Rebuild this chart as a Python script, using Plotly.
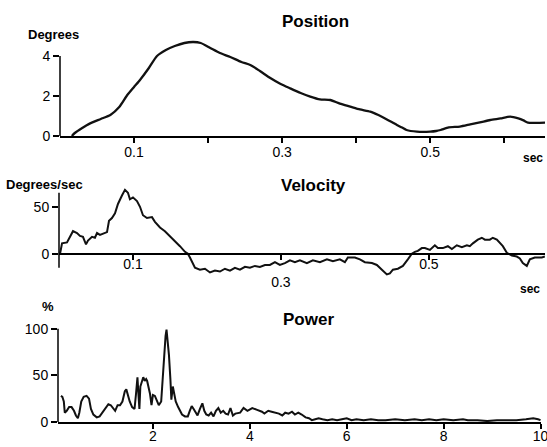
import plotly.graph_objects as go

# ---------------- data ----------------
pos_t = [0.016, 0.02, 0.03, 0.04, 0.055, 0.068, 0.08, 0.09, 0.1, 0.108, 0.12, 0.131, 0.143,
         0.155, 0.168, 0.18, 0.19, 0.203, 0.216, 0.23, 0.245, 0.257, 0.27, 0.284, 0.298,
         0.311, 0.325, 0.338, 0.351, 0.365, 0.378, 0.392, 0.405, 0.419, 0.43, 0.439, 0.448,
         0.455, 0.462, 0.468, 0.482, 0.5, 0.508, 0.514, 0.525, 0.54, 0.554, 0.567, 0.581,
         0.595, 0.608, 0.619, 0.626, 0.632, 0.644, 0.655]
pos_v = [0.0, 0.15, 0.4, 0.62, 0.85, 1.05, 1.45, 2.0, 2.45, 2.8, 3.4, 4.0, 4.3,
         4.5, 4.65, 4.7, 4.65, 4.4, 4.15, 3.95, 3.7, 3.55, 3.25, 2.9, 2.6,
         2.38, 2.15, 1.97, 1.83, 1.8, 1.62, 1.47, 1.33, 1.22, 1.05, 0.88, 0.7,
         0.55, 0.42, 0.3, 0.22, 0.22, 0.25, 0.3, 0.43, 0.47, 0.58, 0.68, 0.8,
         0.88, 0.97, 0.88, 0.78, 0.67, 0.66, 0.67]

vel_t = [0.0014, 0.0041, 0.0108, 0.0149, 0.0189, 0.0243, 0.0284, 0.0324, 0.0365, 0.0392,
         0.0446, 0.0486, 0.0514, 0.0554, 0.0595, 0.0649, 0.0676, 0.0716, 0.0757, 0.0797,
         0.0851, 0.0892, 0.0932, 0.0959, 0.1000, 0.1054, 0.1095, 0.1135, 0.1189, 0.1257,
         0.1297, 0.1365, 0.1432, 0.1500, 0.1568, 0.1635, 0.1703, 0.1743, 0.1770, 0.1838,
         0.1905, 0.1973, 0.2041, 0.2108, 0.2176, 0.2243, 0.2311, 0.2378, 0.2446, 0.2514,
         0.2581, 0.2649, 0.2716, 0.2784, 0.2851, 0.2919, 0.2986, 0.3054, 0.3122, 0.3189,
         0.3257, 0.3351, 0.3432, 0.3527, 0.3622, 0.3703, 0.3797, 0.3865, 0.3905, 0.4000,
         0.4068, 0.4135, 0.4230, 0.4297, 0.4365, 0.4432, 0.4473, 0.4514, 0.4581, 0.4649,
         0.4716, 0.4770, 0.4811, 0.4851, 0.4905, 0.4946, 0.5014, 0.5081, 0.5122, 0.5189,
         0.5257, 0.5311, 0.5378, 0.5446, 0.5514, 0.5554, 0.5595, 0.5662, 0.5716, 0.5757,
         0.5824, 0.5865, 0.5919, 0.5959, 0.6000, 0.6054, 0.6122, 0.6189, 0.6230, 0.6270,
         0.6324, 0.6365, 0.6432, 0.6527, 0.6568]
vel_v = [0, 11, 12, 18, 24, 22, 19, 18, 10, 14,
         18, 17, 22, 20, 21, 23, 35, 38, 43, 53,
         62, 68, 65, 58, 60, 56, 50, 41, 38, 39,
         34, 28, 24, 19, 13, 8, 2, 0, -4, -15,
         -17, -16, -20, -18, -19, -16, -18, -15, -17, -14,
         -15, -13, -14, -12, -12, -9, -12, -10, -7, -9,
         -7, -10, -7, -9, -6, -8, -6, -9, -4, -4,
         -6, -9, -10, -12, -17, -22, -21, -17, -16, -13,
         -6, 0, 2, 3, 6, 6, 4, 9, 6, 6,
         8, 5, 9, 7, 9, 8, 11, 15, 17, 15,
         15, 17, 15, 11, 8, 1, -2, -3, -5, -10,
         -13, -6, -4, -4, -3]

pow_f = [0.1, 0.13, 0.16, 0.18, 0.22, 0.27, 0.32, 0.37, 0.41, 0.45, 0.48, 0.52, 0.57, 0.63,
         0.68, 0.72, 0.77, 0.84, 0.9, 0.96, 1.02, 1.08, 1.13, 1.18, 1.22, 1.27, 1.32, 1.37,
         1.42, 1.45, 1.48, 1.52, 1.57, 1.62, 1.65, 1.68, 1.70, 1.72, 1.74, 1.77, 1.80, 1.83,
         1.86, 1.88, 1.91, 1.94, 1.97, 2.0, 2.04, 2.08, 2.12, 2.17, 2.20, 2.23, 2.26, 2.28,
         2.30, 2.33, 2.36, 2.38, 2.41, 2.44, 2.47, 2.52, 2.56, 2.6, 2.66, 2.72, 2.76, 2.8,
         2.84, 2.88, 2.92, 2.97, 3.02, 3.06, 3.1, 3.15, 3.2, 3.25, 3.3, 3.35, 3.4, 3.45,
         3.5, 3.55, 3.6, 3.65, 3.7, 3.8, 3.87, 3.95, 4.05, 4.15, 4.25, 4.3, 4.38, 4.45,
         4.52, 4.6, 4.67, 4.73, 4.8, 4.87, 4.93, 5.0, 5.07, 5.15, 5.22, 5.28, 5.35, 5.42,
         5.5, 5.6, 5.7, 5.8, 5.9, 6.0, 6.1, 6.2, 6.35, 6.5, 6.65, 6.8, 7.0, 7.2, 7.4, 7.55,
         7.7, 7.85, 8.0, 8.2, 8.4, 8.5, 8.7, 8.9, 9.1, 9.3, 9.5, 9.7, 9.85, 9.95, 10.0]
pow_v = [28, 27, 22, 10, 12, 16, 16, 12, 7, 4, 10, 22, 27, 28,
         25, 14, 8, 5, 6, 10, 14, 19, 18, 14, 12, 18, 18, 22,
         33, 35, 28, 22, 16, 14, 30, 48, 30, 14, 38, 44, 48, 44,
         46, 44, 38, 30, 18, 29, 28, 22, 18, 22, 50, 76, 92, 99,
         90, 72, 46, 24, 38, 28, 22, 16, 12, 8, 6, 6, 12, 17,
         14, 10, 7, 14, 20, 12, 8, 7, 10, 6, 12, 15, 10, 12,
         9, 8, 15, 7, 9, 10, 15, 12, 15, 13, 11, 9, 12, 11,
         10, 9, 7, 10, 9, 11, 8, 10, 8, 5, 4, 2, 3, 4,
         3, 2, 3, 2, 3, 4, 2, 3, 2, 3, 2, 2, 3, 2, 3, 2,
         3, 2, 3, 2, 3, 2, 2, 1, 2, 2, 2, 3, 4, 3, 2]

pos_xticks = [0.1, 0.2, 0.3, 0.4, 0.5, 0.6]
pos_xtext = ["0.1", "", "0.3", "", "0.5", ""]
vel_xticks = [0.1, 0.3, 0.5]
vel_xtext = ["0.1", "<br>0.3", "0.5"]
pow_xticks = [2, 4, 6, 8, 10]

# ---------------- figure ----------------
W, H = 547, 447
FONT = "Liberation Sans, Arial, Helvetica, sans-serif"
BOLD = "Liberation Sans Narrow, Arial Narrow, Liberation Sans, Arial, sans-serif"
LC = "#111111"

def px_x(p):
    return p / W

def px_y(p):
    return (H - p) / H

fig = go.Figure()
fig.add_trace(go.Scatter(x=pos_t, y=pos_v, mode="lines", xaxis="x", yaxis="y",
                         line=dict(color=LC, width=2.3, shape="spline", smoothing=0.6),
                         showlegend=False))
fig.add_trace(go.Scatter(x=vel_t, y=vel_v, mode="lines", xaxis="x2", yaxis="y2",
                         line=dict(color=LC, width=2.0), showlegend=False))
fig.add_trace(go.Scatter(x=pow_f, y=pow_v, mode="lines", xaxis="x3", yaxis="y3",
                         line=dict(color=LC, width=2.0), showlegend=False))

axis_common = dict(showgrid=False, zeroline=False, ticks="outside",
                   tickwidth=1.5, tickcolor="black", linecolor="black", linewidth=1.5,
                   tickfont=dict(family=FONT, size=14, color="black"), automargin=False,
                   ticklabeloverflow="allow")

fig.update_layout(
    width=W, height=H,
    margin=dict(l=0, r=0, t=0, b=0),
    paper_bgcolor="white", plot_bgcolor="white",
    xaxis=dict(domain=[px_x(60), px_x(545)], range=[0, 0.655], anchor="y",
               showline=True, tickvals=pos_xticks, ticktext=pos_xtext, ticklen=5,
               ticklabelstandoff=-3, **axis_common),
    yaxis=dict(domain=[px_y(136), px_y(36)], range=[0, 5], anchor="x",
               showline=False, tickvals=[0, 2, 4], ticklen=6, **axis_common),
    xaxis2=dict(domain=[px_x(59), px_x(545)], range=[0, 0.657], anchor="free",
                position=px_y(254), showline=True, tickvals=vel_xticks,
                ticktext=vel_xtext, ticklen=5, ticklabelstandoff=-8, **axis_common),
    yaxis2=dict(domain=[px_y(280), px_y(188)], range=[-28, 70], anchor="x2",
                showline=False, tickvals=[0, 50], ticklen=6, **axis_common),
    xaxis3=dict(domain=[px_x(58), px_x(541)], range=[0.04, 10.01], anchor="y3",
                showline=True, tickvals=pow_xticks, ticklen=5,
                ticklabelstandoff=-5, **axis_common),
    yaxis3=dict(domain=[px_y(422), px_y(325)], range=[0, 104], anchor="x3",
                showline=False, tickvals=[0, 50, 100], ticklen=6, **axis_common),
)

# vertical axis lines (only spanning the labelled range)
for xr, yr, y0, y1 in [("x domain", "y", 0, 4), ("x2 domain", "y2", -15, 65),
                       ("x3 domain", "y3", 0, 100)]:
    fig.add_shape(type="line", xref=xr, yref=yr, x0=0, x1=0, y0=y0, y1=y1,
                  line=dict(color="black", width=1.5))

labels = [
    ("Position", 315, 22, 17),
    ("Degrees", 53, 34, 13),
    ("sec", 533, 158, 12),
    ("Velocity", 313, 185, 17),
    ("Degrees/sec", 44, 184, 13),
    ("sec", 530, 289, 12),
    ("Power", 308, 320, 17),
    ("%", 48, 307, 13),
]
for text, x, y, size in labels:
    fig.add_annotation(text="<b>%s</b>" % text, xref="paper", yref="paper",
                       x=px_x(x), y=px_y(y), xanchor="center", yanchor="middle",
                       showarrow=False, font=dict(family=BOLD, size=size, color="black"))

fig.write_html("out.html", config={"displayModeBar": False},
               post_script="document.body.style.margin='0';document.body.style.overflow='hidden';")
